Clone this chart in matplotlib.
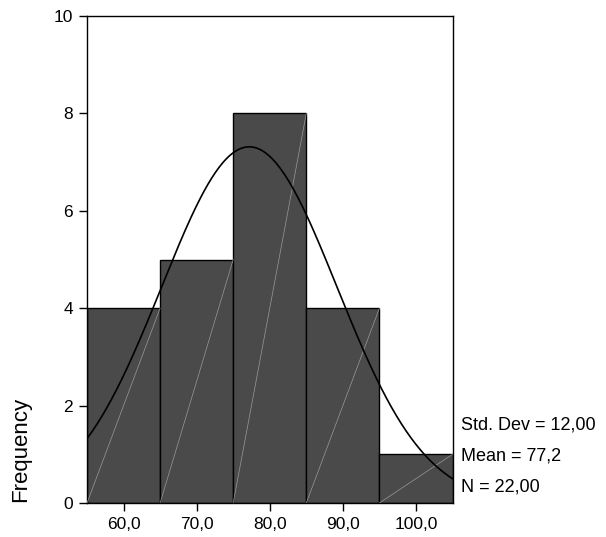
import numpy as np
import matplotlib.pyplot as plt

plt.rcParams["font.family"] = ["Liberation Sans", "DejaVu Sans"]

bin_centers = [60, 70, 80, 90, 100]
counts = [4, 5, 8, 4, 1]
bin_width = 10
mean = 77.2
std = 12.0
n = 22
tick_labels = ["60,0", "70,0", "80,0", "90,0", "100,0"]
stats_lines = ["Std. Dev = 12,00", "Mean = 77,2", "N = 22,00"]

fig = plt.figure(figsize=(6.06, 5.37), dpi=100)
ax = fig.add_axes([0.1436, 0.0633, 0.6031, 0.9069])

ax.bar(bin_centers, counts, width=bin_width, color="#4a4a4a",
       edgecolor="black", linewidth=1.0, zorder=2)

# faint diagonal lines inside each bar (SPSS rendering look)
for c, h in zip(bin_centers, counts):
    ax.plot([c - bin_width / 2, c + bin_width / 2], [0, h], color="#9a9a9a",
            linewidth=0.5, zorder=3)

# normal curve scaled to frequency
x = np.linspace(55, 105, 300)
y = n * bin_width / (std * np.sqrt(2 * np.pi)) * np.exp(-0.5 * ((x - mean) / std) ** 2)
ax.plot(x, y, color="black", linewidth=1.2, zorder=4)

ax.set_xlim(55, 105)
ax.set_ylim(0, 10)
ax.set_xticks(bin_centers)
ax.set_xticklabels(tick_labels)
ax.set_yticks(range(0, 11, 2))
ax.tick_params(direction="out", length=6, width=1, labelsize=12.5, pad=4)
for s in ax.spines.values():
    s.set_linewidth(1.0)

fig.text(21 / 606, 1 - 449 / 537, "Frequency", rotation=90, fontsize=16,
         ha="center", va="center")
for i, line in enumerate(stats_lines):
    fig.text(461 / 606, 1 - (425 + 31 * i) / 537, line, fontsize=13,
             ha="left", va="center")

fig.savefig("out.png", dpi=100)
